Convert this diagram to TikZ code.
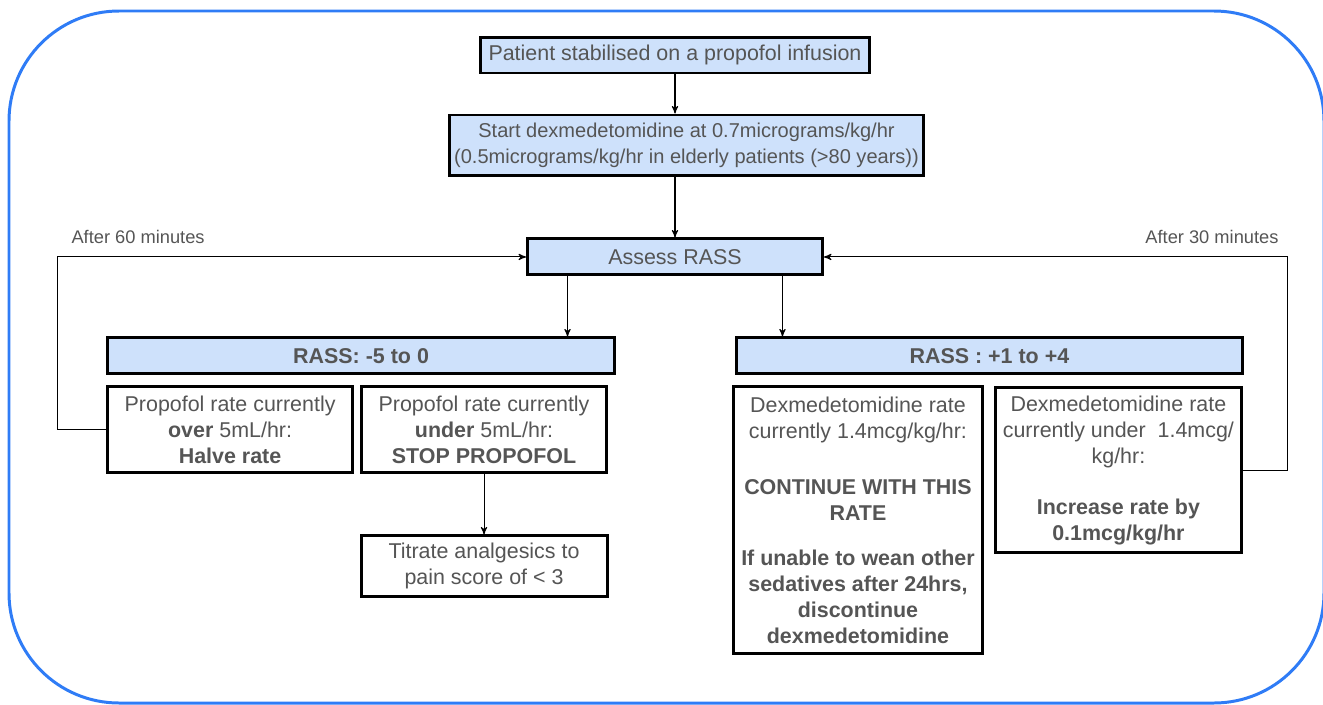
\documentclass[tikz,border=0pt]{standalone}
\usepackage{fontspec}
\setmainfont{Liberation Sans}
\usetikzlibrary{arrows,positioning,shapes}
\definecolor{boxblue}{RGB}{206,225,251}
\definecolor{frameblue}{RGB}{47,124,246}
\definecolor{txtgrey}{RGB}{85,85,85}

\begin{document}
\begin{tikzpicture}[->,>=stealth',x=0.02cm,y=-0.02cm,line width=0.6pt]
\tikzstyle{every node}=[text=txtgrey,font=\fontsize{12.2}{14.8}\selectfont]
\tikzstyle{bluebox}=[draw=black,line width=1.7pt,fill=boxblue,align=center,inner sep=0pt,minimum height=0.72cm]
\tikzstyle{head}=[bluebox,font=\fontsize{12.2}{14.8}\selectfont\bfseries]
\tikzstyle{plainbox}=[draw=black,line width=1.7pt,fill=white,align=center,inner sep=0pt]
\tikzstyle{note}=[font=\fontsize{10.4}{12}\selectfont,inner sep=0pt]

\useasboundingbox (0,0) rectangle (1323,704);
\draw[-,frameblue,line width=1.7pt,rounded corners=2.2cm] (9,11) rectangle (1324,703);

\node[bluebox,minimum width=7.8cm]  (start) at (675,55) {Patient stabilised on a propofol infusion};
\node[bluebox,minimum width=9.5cm,minimum height=1.22cm,font=\fontsize{11.4}{14.6}\selectfont] (dex) [below of=start,node distance=1.81cm,xshift=0.23cm] {Start dexmedetomidine at 0.7micrograms/kg/hr\\(0.5micrograms/kg/hr in elderly patients (>80 years))};
\node[bluebox,minimum width=5.9cm]  (assess) [below of=start,node distance=4.04cm] {Assess RASS};
\node[head,minimum width=10.14cm]   (neg) [below of=assess,node distance=1.98cm,xshift=-6.28cm] {RASS: -5 to 0};
\node[head,minimum width=10.12cm]   (pos) [below of=assess,node distance=1.98cm,xshift=6.29cm] {RASS : +1 to +4};
\node[plainbox,minimum width=4.9cm,minimum height=1.72cm] (over) [below of=neg,node distance=1.48cm,xshift=-2.62cm] {Propofol rate currently\\\textbf{over} 5mL/hr:\\\textbf{Halve rate}};
\node[plainbox,minimum width=4.9cm,minimum height=1.72cm] (under) [right of=over,node distance=5.08cm] {Propofol rate currently\\\textbf{under} 5mL/hr:\\\textbf{STOP PROPOFOL}};
\node[plainbox,minimum width=4.92cm,minimum height=1.22cm] (titrate) [below of=under,node distance=2.73cm] {Titrate analgesics to\\pain score of < 3};
\node[plainbox,minimum width=4.98cm,minimum height=5.34cm] (cont) [below of=pos,node distance=3.29cm,xshift=-2.63cm] {Dexmedetomidine rate\\currently 1.4mcg/kg/hr:\\[17pt]\textbf{CONTINUE WITH THIS}\\\textbf{RATE}\\[11pt]\textbf{If unable to wean other}\\\textbf{sedatives after 24hrs,}\\\textbf{discontinue}\\\textbf{dexmedetomidine}};
\node[plainbox,minimum width=4.92cm,minimum height=3.3cm] (incr) [below of=pos,node distance=2.29cm,xshift=2.58cm] {Dexmedetomidine rate\\currently under~ 1.4mcg/\\kg/hr:\\[14.5pt]\textbf{Increase rate by}\\\textbf{0.1mcg/kg/hr}};

\node[note,anchor=west] (late) at (71,237) {After 60 minutes};
\node[note,anchor=east] (early) at (1279,237) {After 30 minutes};

\path
(start) edge (start |- dex.north)
(assess |- dex.south) edge (assess)
([xshift=-2.15cm]assess.south) edge ([xshift=-2.15cm]assess.south |- neg.north)
([xshift=2.15cm]assess.south) edge ([xshift=2.15cm]assess.south |- pos.north)
(under) edge (titrate)
;
\draw (over.west) -- ++(-49,0) |- (assess.west);
\draw (incr.east) -- ++(45,0) |- (assess.east);
\end{tikzpicture}
\end{document}
